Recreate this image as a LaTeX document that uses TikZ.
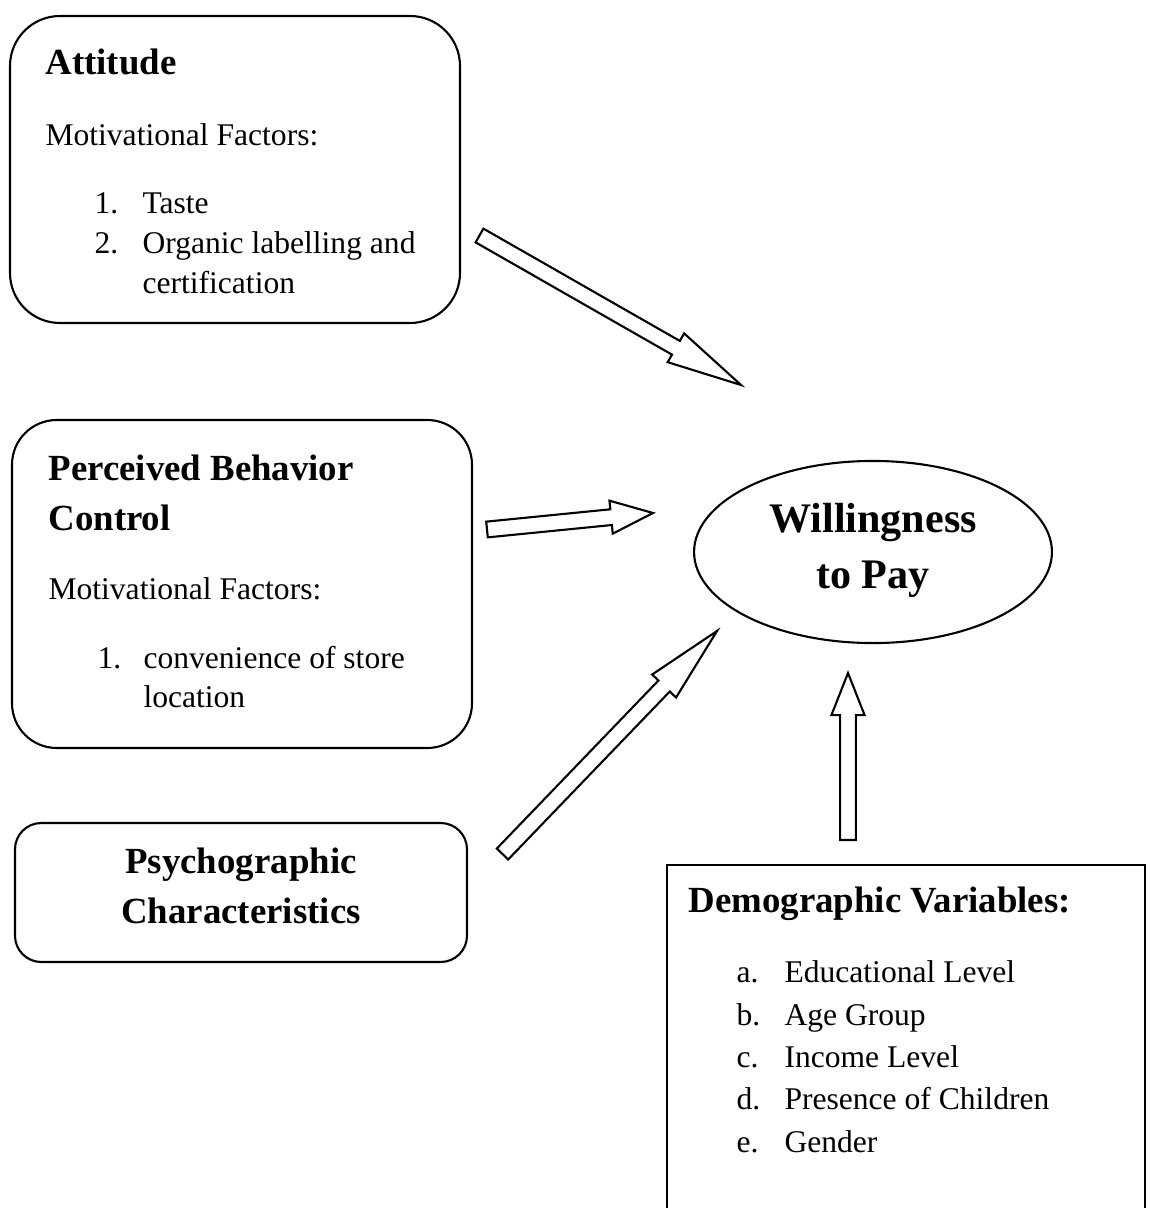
\documentclass[tikz,border=0pt]{standalone}
\usepackage{fontspec}
\setmainfont{Liberation Serif}
\usetikzlibrary{calc}

\tikzset{
	box/.style={line width=0.8pt},
	txt/.style={anchor=base west,inner sep=0pt,font=\fontsize{12}{15}\selectfont},
	head/.style={anchor=base west,inner sep=0pt,font=\fontsize{14}{18}\selectfont\bfseries},
	blockarrow/.style={line width=0.8pt,line join=miter}
}

% block arrow: from, to, head length
\newcommand{\blockarrow}[3]{%
	\coordinate (#2-base) at ($(#2)!#3!(#1)$);
	\draw[blockarrow] ($(#1)!3pt!90:(#2)$) -- ($(#2-base)!3pt!90:(#2)$) -- ($(#2-base)!6.3pt!90:(#2)$) -- (#2)
		-- ($(#2-base)!6.3pt!-90:(#2)$) -- ($(#2-base)!3pt!-90:(#2)$) -- ($(#1)!3pt!-90:(#2)$) -- cycle;
}

\begin{document}
\begin{tikzpicture}[x=0.38pt,y=-0.38pt]
	\useasboundingbox (0,0) rectangle (1150,1208);
	\fill[white] (0,0) rectangle (1150,1208);

	% Attitude
	\draw[box,rounded corners=19pt] (10,16) rectangle (460,323);
	\node[head] (att) at (45,75) {Attitude};
	\node[txt] (attmot) at (45,145) {Motivational Factors:};
	\node[txt] (attn1) at (94,213) {1.};
	\node[txt] (atti1) at (142,213) {Taste};
	\node[txt] (attn2) at (94,253) {2.};
	\node[txt] (atti2) at (142,253) {Organic labelling and};
	\node[txt] (atti2b) at (142,293) {certification};

	% Perceived Behavior Control
	\draw[box,rounded corners=17pt] (12,420) rectangle (472,748);
	\node[head] (pbc) at (48,480) {Perceived Behavior};
	\node[head] (pbcb) at (48,530) {Control};
	\node[txt] (pbcmot) at (48,599) {Motivational Factors:};
	\node[txt] (pbcn1) at (97,668) {1.};
	\node[txt] (pbci1) at (143,668) {convenience of store};
	\node[txt] (pbci1b) at (143,707) {location};

	% Psychographic
	\draw[box,rounded corners=10pt] (15,823) rectangle (467,962);
	\node[head,anchor=base] (psy) at (241,873) {Psychographic};
	\node[head,anchor=base] (psyb) at (241,923) {Characteristics};

	% Willingness to Pay
	\draw[box] (873,552) ellipse [x radius=68pt,y radius=34.6pt];
	\node[head,anchor=base,font=\fontsize{16}{20}\selectfont\bfseries] (wtp) at (873,532) {Willingness};
	\node[head,anchor=base,font=\fontsize{16}{20}\selectfont\bfseries] (wtpb) at (873,588) {to Pay};

	% Demographic Variables
	\draw[box] (667,1215) -- (667,865) -- (1145,865) -- (1145,1215);
	\node[head] (dem) at (688,912) {Demographic Variables:};
	\foreach \l/\t/\y in {a/Educational Level/982,b/Age Group/1025,c/Income Level/1067,d/Presence of Children/1109,e/Gender/1152} {
		\node[txt] (demn\l) at (736,\y) {\l.};
		\node[txt] (demi\l) at (784,\y) {\t};
	}

	% arrows
	\coordinate (att-from) at (479.5,235.5);
	\coordinate (att-to) at (741,385);
	\coordinate (pbc-from) at (487,529.5);
	\coordinate (pbc-to) at (653,513);
	\coordinate (psy-from) at (502.5,854);
	\coordinate (psy-to) at (717,631);
	\coordinate (dem-from) at (848,840);
	\coordinate (dem-to) at (848,673);
	\blockarrow{att-from}{att-to}{28.5pt}
	\blockarrow{pbc-from}{pbc-to}{16pt}
	\blockarrow{psy-from}{psy-to}{29pt}
	\blockarrow{dem-from}{dem-to}{16pt}
\end{tikzpicture}
\end{document}
